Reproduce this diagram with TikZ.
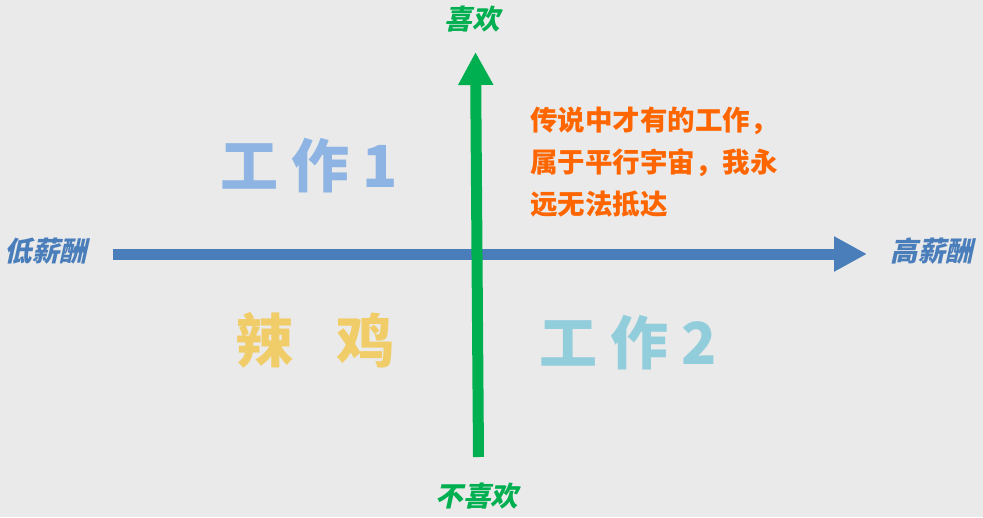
\documentclass[tikz,border=0pt]{standalone}
\usepackage{fontspec}
\usepackage{xcolor}
\usepackage{tikz}
\usetikzlibrary{arrows.meta,positioning}
\newfontfamily\cjk{Noto Sans CJK SC}
\newfontfamily\cjkslant[FakeSlant=0.22]{Noto Sans CJK SC}
\definecolor{paper}{HTML}{EAEAEA}
\definecolor{payblue}{HTML}{4A7EBB}
\definecolor{likegreen}{HTML}{00B050}
\definecolor{dreamorange}{HTML}{FF6600}
\definecolor{jobone}{HTML}{8DB4E2}
\definecolor{jobtwo}{HTML}{92CDDC}
\definecolor{junk}{HTML}{F1CD6A}
\tikzset{
  axisarrow/.style={
    -{Triangle[length=33pt,width=33pt]}, line width=11pt, color=#1
  },
  axisarrow/.default=payblue,
  axislabel/.style={
    font=\cjkslant\bfseries\fontsize{27.5}{30}\selectfont,
    text=#1, inner sep=0pt
  },
  axislabel/.default=payblue,
  quadlabel/.style={
    font=\cjk\bfseries\fontsize{58}{60}\selectfont,
    text=#1, inner sep=0pt
  },
  quadlabel/.default=jobone,
  notetext/.style={
    font=\cjk\bfseries\fontsize{27.5}{42}\selectfont,
    text=dreamorange, align=left, inner sep=0pt
  },
}

\begin{document}
\begin{tikzpicture}[x=1pt,y=-1pt]
\fill[paper] (0,0) rectangle (983,517);
\coordinate (low-pay) at (113,254);
\coordinate (high-pay) at (867,254);
\coordinate (dislike) at (478.5,457);
\coordinate (like) at (475.5,52);
\draw[axisarrow] (low-pay) -- (high-pay);
\draw[axisarrow=likegreen] (dislike) -- (like);
\node[axislabel] (low-pay-label) at (46,251) {低薪酬};
\node[axislabel] (high-pay-label) at (932,251) {高薪酬};
\node[axislabel=likegreen] (like-label) at (472,19) {喜欢};
\node[axislabel=likegreen] (dislike-label) at (477,496) {不喜欢};
\node[quadlabel] (job-one) at (309,166) {工 作 1};
\node[quadlabel=junk] (junk-label) at (315,340) {辣\hspace{44pt}鸡};
\node[quadlabel=jobtwo] (job-two) at (628,343) {工 作 2};
\node[notetext, anchor=west] (dream-note) at (530,162)
  {传说中才有的工作，\\属于平行宇宙，我永\\远无法抵达};
\end{tikzpicture}
\end{document}
